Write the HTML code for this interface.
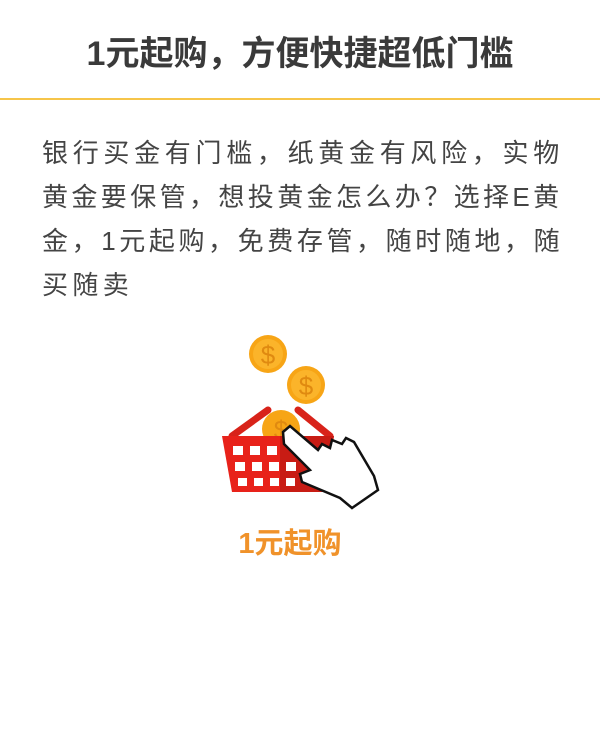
<!DOCTYPE html>
<html><head><meta charset="utf-8"><style>
html,body{margin:0;padding:0;background:#fff;width:600px;height:739px;overflow:hidden}
body{font-family:"Liberation Sans","Noto Sans CJK SC",sans-serif;position:relative}
.title{position:absolute;top:34px;left:0;width:600px;text-align:center;font-size:34px;font-weight:bold;color:#3a3a3a;line-height:40px}
.rule{position:absolute;top:98px;left:0;width:600px;height:2px;background:#f6c54a}
.body{position:absolute;top:131px;left:42px;width:540px;font-size:26px;line-height:44px;color:#444;white-space:nowrap}
.ln{display:block;height:44px}
.label{position:absolute;top:520px;left:190px;width:200px;text-align:center;font-size:29px;font-weight:bold;color:#f0922a}
svg{position:absolute;left:0;top:0}
</style></head><body>
<div class="title">1元起购，方便快捷超低门槛</div>
<div class="rule"></div>
<div class="body"><span class="ln" style="letter-spacing:4.7px">银行买金有门槛，纸黄金有风险，实物</span><span class="ln" style="letter-spacing:3.4px">黄金要保管，想投黄金怎么办？选择E黄</span><span class="ln" style="letter-spacing:3.6px">金，1元起购，免费存管，随时随地，随</span><span class="ln" style="letter-spacing:4.4px">买随卖</span></div>
<svg width="600" height="739">
<g><circle cx="268" cy="354" r="19" fill="#f7a516"/><circle cx="268" cy="354" r="15" fill="#fbb42a"/><text x="268" y="364" text-anchor="middle" font-size="26" fill="#e08a10" font-family="Liberation Sans">$</text></g>
<g><circle cx="306" cy="385" r="19" fill="#f7a516"/><circle cx="306" cy="385" r="15" fill="#fbb42a"/><text x="306" y="395" text-anchor="middle" font-size="26" fill="#e08a10" font-family="Liberation Sans">$</text></g>
<path d="M232 436 L268 410 M298 410 L330 436" stroke="#d8231a" stroke-width="7" stroke-linecap="round" fill="none"/>
<g><circle cx="281" cy="429" r="19" fill="#f7a516"/><text x="281" y="439" text-anchor="middle" font-size="26" fill="#e08a10" font-family="Liberation Sans">$</text></g>
<g>
<path d="M222 436 L334 436 L324 492 L232 492 Z" fill="#e8221a"/>
<path d="M280 436 L334 436 L324 492 L280 492 Z" fill="#c81c14"/>
<g fill="#fff">
<rect x="233" y="446" width="10" height="9"/><rect x="250" y="446" width="10" height="9"/><rect x="267" y="446" width="10" height="9"/>
<rect x="235" y="462" width="10" height="9"/><rect x="252" y="462" width="10" height="9"/><rect x="269" y="462" width="10" height="9"/><rect x="286" y="462" width="10" height="9"/>
<rect x="238" y="478" width="9" height="8"/><rect x="254" y="478" width="9" height="8"/><rect x="270" y="478" width="9" height="8"/><rect x="286" y="478" width="9" height="8"/>
</g></g>
<path d="M283 432 L290 426 L318 450 L322 444 L330 448 L332 440 L342 444 L346 438 L354 442 L374 476 L378 490 L352 508 L340 498 L302 482 L300 474 L310 470 L284 444 Z" fill="#fff" stroke="#111" stroke-width="2.5" stroke-linejoin="miter"/>
</svg>
<div class="label">1元起购</div>
</body></html>
